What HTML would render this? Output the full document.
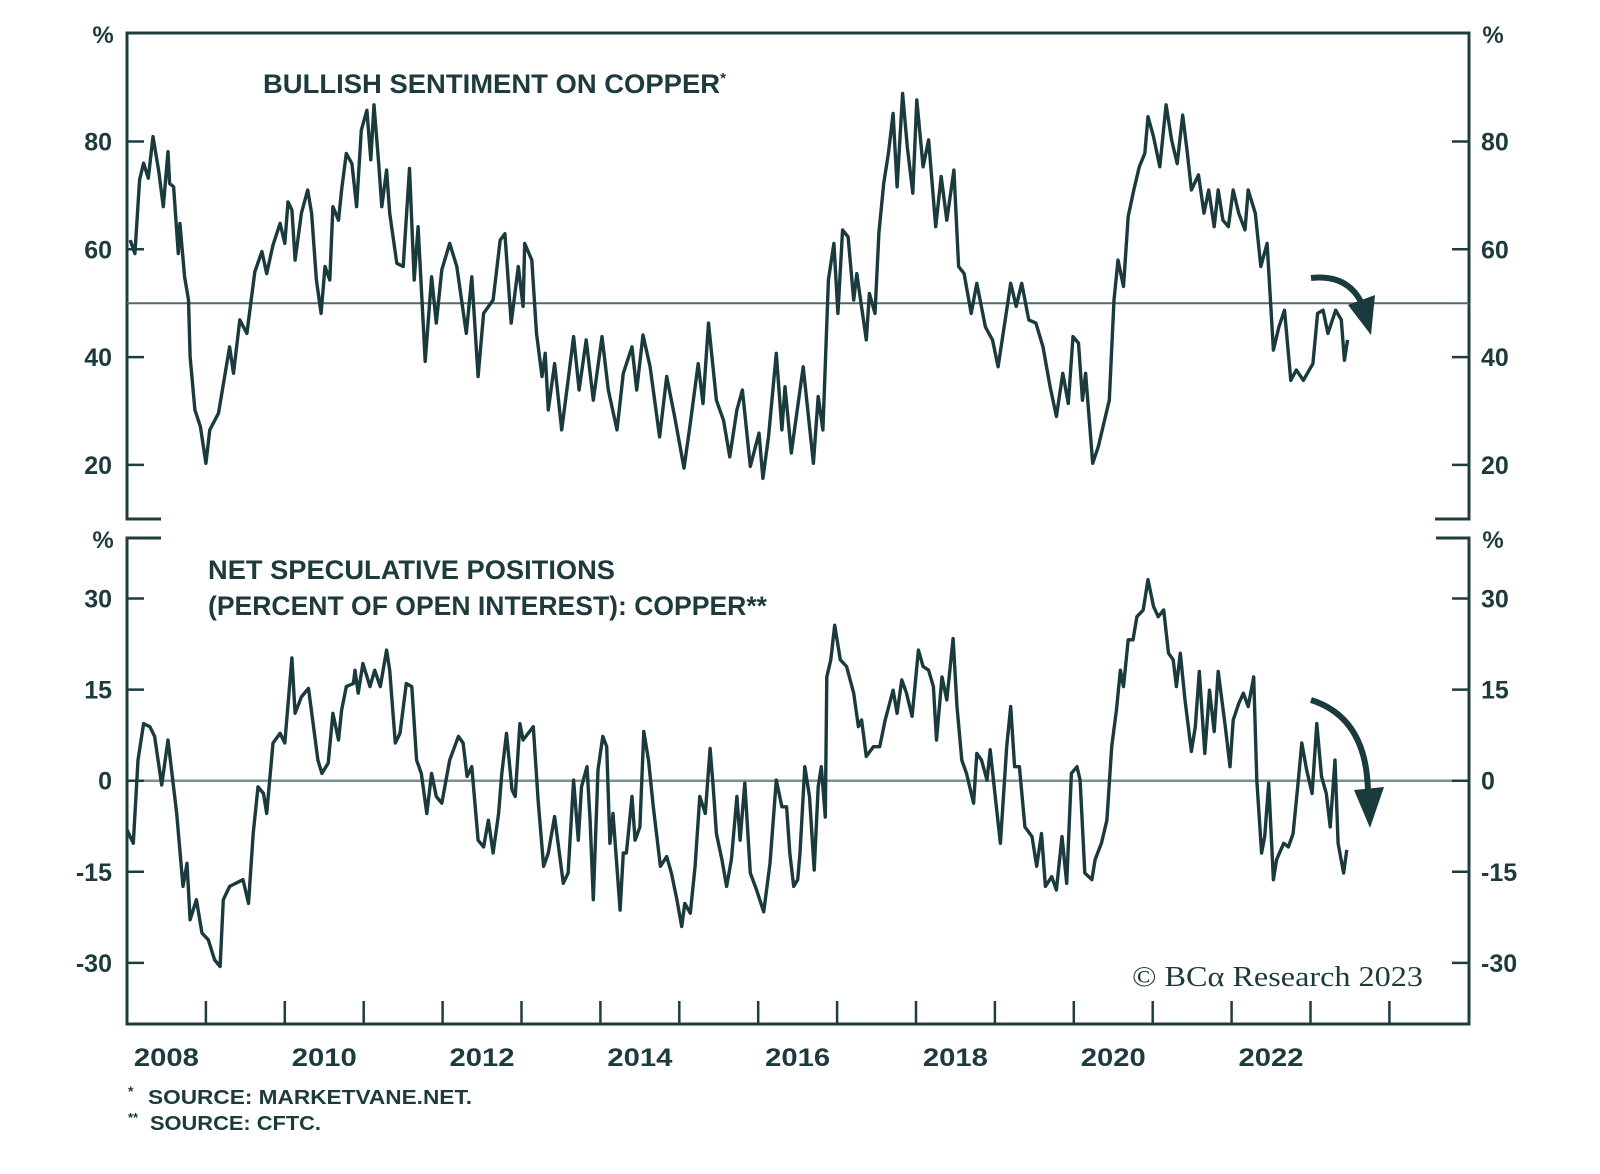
<!DOCTYPE html>
<html><head><meta charset="utf-8"><style>
html,body{margin:0;padding:0;background:#fff;}
svg{display:block;}
text{font-family:"Liberation Sans",sans-serif;fill:#1d3a3d;}
</style></head><body>
<svg id="chart" width="1600" height="1174" viewBox="0 0 1600 1174" xmlns="http://www.w3.org/2000/svg">
<g id="frame" fill="none" stroke="#1f3c3f" stroke-width="3">
<path d="M161,519 H127 V33 H1469 V519 H1435"/>
<path d="M161,538 H127 V1024 H1469 V538 H1436"/>
</g>
<g id="axes"></g>
<g id="series"></g>
<text x="263" y="93" font-size="27" font-weight="bold" textLength="463" lengthAdjust="spacingAndGlyphs">BULLISH SENTIMENT ON COPPER<tspan font-size="15" dy="-10">*</tspan></text>
<text x="208" y="579" font-size="27" font-weight="bold" textLength="407" lengthAdjust="spacingAndGlyphs">NET SPECULATIVE POSITIONS</text>
<text x="208" y="615" font-size="27" font-weight="bold" textLength="559" lengthAdjust="spacingAndGlyphs">(PERCENT OF OPEN INTEREST): COPPER**</text>
<text x="103" y="43" font-size="24" font-weight="bold" text-anchor="middle">%</text>
<text x="1493" y="43" font-size="24" font-weight="bold" text-anchor="middle">%</text>
<text x="103" y="548" font-size="24" font-weight="bold" text-anchor="middle">%</text>
<text x="1493" y="548" font-size="24" font-weight="bold" text-anchor="middle">%</text>
<text x="1132" y="986" font-size="29" style="font-family:'Liberation Serif',serif" textLength="291" lengthAdjust="spacingAndGlyphs">© BCα Research 2023</text>
<text x="128" y="1104" font-size="20" font-weight="bold"><tspan font-size="14" dy="-8">*</tspan><tspan x="148" dy="8" textLength="324" lengthAdjust="spacingAndGlyphs">SOURCE: MARKETVANE.NET.</tspan></text>
<text x="128" y="1130" font-size="20" font-weight="bold"><tspan font-size="13" dy="-8">**</tspan><tspan x="150" dy="8" textLength="171" lengthAdjust="spacingAndGlyphs">SOURCE: CFTC.</tspan></text>
<g>
<path d="M1311,278 Q1348,274 1362,304" fill="none" stroke="#1a3a3d" stroke-width="6"/>
<polygon points="1348,305 1375,295 1371,335" fill="#1a3a3d"/>
</g>
<g>
<path d="M1311,700 Q1368,718 1368,795" fill="none" stroke="#1a3a3d" stroke-width="6"/>
<polygon points="1354,790 1384,787 1370,828" fill="#1a3a3d"/>
</g>
</svg>
<script>
const topDates=[2008.04,2008.10,2008.16,2008.21,2008.27,2008.33,2008.40,2008.46,2008.52,2008.54,2008.59,2008.65,2008.67,2008.73,2008.78,2008.80,2008.86,2008.93,2009.00,2009.05,2009.16,2009.30,2009.35,2009.43,2009.52,2009.62,2009.71,2009.77,2009.85,2009.94,2010.00,2010.04,2010.09,2010.13,2010.21,2010.29,2010.34,2010.40,2010.46,2010.51,2010.57,2010.61,2010.68,2010.72,2010.78,2010.85,2010.91,2010.97,2011.04,2011.09,2011.13,2011.19,2011.23,2011.29,2011.33,2011.42,2011.50,2011.58,2011.64,2011.69,2011.78,2011.86,2011.92,2011.99,2012.09,2012.18,2012.30,2012.37,2012.45,2012.52,2012.64,2012.73,2012.79,2012.87,2012.96,2013.02,2013.04,2013.13,2013.19,2013.26,2013.30,2013.34,2013.42,2013.51,2013.59,2013.66,2013.73,2013.82,2013.91,2014.02,2014.10,2014.21,2014.29,2014.40,2014.46,2014.54,2014.63,2014.75,2014.84,2014.94,2015.06,2015.14,2015.24,2015.30,2015.37,2015.47,2015.56,2015.64,2015.73,2015.80,2015.90,2016.01,2016.06,2016.13,2016.23,2016.30,2016.34,2016.42,2016.57,2016.70,2016.76,2016.82,2016.89,2016.96,2017.01,2017.07,2017.14,2017.21,2017.25,2017.37,2017.41,2017.48,2017.53,2017.59,2017.65,2017.71,2017.76,2017.83,2017.89,2017.96,2018.01,2018.09,2018.16,2018.25,2018.32,2018.39,2018.48,2018.54,2018.61,2018.70,2018.77,2018.88,2018.97,2019.04,2019.13,2019.20,2019.27,2019.34,2019.43,2019.52,2019.61,2019.70,2019.78,2019.86,2019.93,2019.99,2020.06,2020.11,2020.15,2020.24,2020.31,2020.38,2020.45,2020.51,2020.56,2020.63,2020.69,2020.76,2020.83,2020.90,2020.94,2021.01,2021.09,2021.17,2021.24,2021.31,2021.38,2021.44,2021.49,2021.58,2021.65,2021.71,2021.78,2021.83,2021.89,2021.96,2022.02,2022.09,2022.17,2022.21,2022.30,2022.37,2022.45,2022.53,2022.60,2022.67,2022.75,2022.82,2022.91,2023.03,2023.09,2023.16,2023.22,2023.32,2023.39,2023.43,2023.47];
const topValues=[61.7,59.2,72.9,76.0,73.2,80.9,74.7,67.9,78.1,72.2,71.6,59.2,64.8,54.9,50.6,40.1,30.2,27.1,20.3,26.5,29.6,41.9,37.0,46.9,44.4,55.8,59.6,55.5,60.8,64.8,61.1,68.8,67.3,58.0,66.7,71.0,66.7,54.3,48.1,56.8,54.3,67.9,65.4,71.0,77.8,75.9,67.9,82.1,85.8,76.6,86.8,75.9,67.9,74.7,66.7,57.4,56.8,75.0,54.3,64.2,39.2,54.9,46.3,56.2,61.1,56.8,44.4,54.9,36.4,48.1,50.6,61.7,62.9,46.3,56.8,49.4,61.1,58.0,44.4,36.4,40.7,30.2,38.8,26.5,35.7,43.8,33.9,43.2,32.0,43.8,33.9,26.5,37.0,41.9,33.9,44.1,38.2,25.2,36.4,29.0,19.4,27.7,38.8,31.4,46.3,32.0,28.3,21.5,30.2,33.9,19.7,25.9,17.5,25.2,40.7,26.5,34.5,22.2,38.2,20.3,32.7,26.5,54.3,61.1,48.1,63.6,62.3,50.6,55.5,43.2,51.8,48.1,63.0,72.2,77.8,85.2,71.6,88.9,79.0,70.4,87.7,75.3,80.3,64.2,73.5,65.4,74.7,56.8,55.5,48.1,53.7,45.6,43.2,38.2,46.9,53.7,49.4,53.7,46.9,46.3,41.9,34.5,29.0,37.0,31.4,43.8,42.6,32.0,37.0,20.3,23.4,27.7,32.0,50.6,58.0,53.1,66.1,71.0,75.3,77.8,84.6,80.9,75.3,86.8,80.3,75.9,84.9,77.8,71.0,73.8,66.7,71.0,64.2,71.0,65.4,64.2,71.0,66.7,63.6,71.0,66.7,56.8,61.1,41.3,45.6,48.7,35.7,37.6,35.7,38.8,48.1,48.7,44.4,48.7,46.9,39.4,43.2];
const botDates=[2008.00,2008.08,2008.14,2008.21,2008.29,2008.35,2008.44,2008.52,2008.63,2008.71,2008.76,2008.80,2008.88,2008.95,2009.03,2009.11,2009.18,2009.22,2009.30,2009.47,2009.54,2009.60,2009.66,2009.73,2009.77,2009.85,2009.94,2010.00,2010.09,2010.13,2010.21,2010.30,2010.42,2010.47,2010.55,2010.61,2010.68,2010.72,2010.78,2010.87,2010.89,2010.93,2010.99,2011.08,2011.14,2011.21,2011.29,2011.33,2011.40,2011.46,2011.54,2011.61,2011.67,2011.73,2011.80,2011.86,2011.92,2011.99,2012.09,2012.20,2012.26,2012.31,2012.37,2012.45,2012.52,2012.58,2012.64,2012.71,2012.75,2012.81,2012.88,2012.92,2012.98,2013.02,2013.15,2013.21,2013.28,2013.34,2013.42,2013.53,2013.59,2013.66,2013.72,2013.76,2013.83,2013.87,2013.91,2013.97,2014.03,2014.08,2014.12,2014.16,2014.25,2014.29,2014.33,2014.40,2014.44,2014.50,2014.55,2014.61,2014.67,2014.76,2014.84,2014.90,2014.97,2015.03,2015.07,2015.14,2015.20,2015.26,2015.33,2015.39,2015.43,2015.47,2015.54,2015.60,2015.66,2015.73,2015.77,2015.83,2015.90,2015.98,2016.07,2016.15,2016.23,2016.30,2016.36,2016.40,2016.45,2016.50,2016.53,2016.59,2016.65,2016.71,2016.76,2016.80,2016.85,2016.87,2016.92,2016.97,2017.04,2017.12,2017.21,2017.27,2017.31,2017.37,2017.46,2017.54,2017.61,2017.71,2017.76,2017.82,2017.88,2017.95,2018.03,2018.09,2018.16,2018.22,2018.26,2018.33,2018.39,2018.47,2018.52,2018.58,2018.64,2018.73,2018.77,2018.83,2018.90,2018.94,2019.00,2019.07,2019.15,2019.20,2019.25,2019.31,2019.38,2019.47,2019.53,2019.59,2019.64,2019.72,2019.78,2019.85,2019.91,2019.97,2020.04,2020.08,2020.14,2020.23,2020.27,2020.35,2020.42,2020.48,2020.54,2020.59,2020.63,2020.69,2020.75,2020.80,2020.88,2020.94,2021.01,2021.07,2021.14,2021.20,2021.26,2021.30,2021.35,2021.41,2021.49,2021.54,2021.59,2021.66,2021.72,2021.78,2021.83,2021.92,2021.98,2022.02,2022.09,2022.15,2022.21,2022.28,2022.32,2022.38,2022.42,2022.47,2022.53,2022.57,2022.66,2022.72,2022.78,2022.85,2022.89,2022.95,2023.02,2023.08,2023.14,2023.20,2023.25,2023.31,2023.35,2023.42,2023.46];
const botValues=[-8.1,-10.3,3.4,9.4,8.9,7.3,-0.7,6.7,-5.4,-17.4,-13.6,-22.9,-19.6,-25.1,-26.2,-29.5,-30.6,-19.6,-17.4,-16.3,-20.2,-8.7,-1.0,-2.1,-5.4,6.2,7.8,6.2,20.2,11.1,13.8,15.2,3.4,1.2,2.9,11.1,6.7,11.6,15.5,16.0,18.2,14.4,19.3,15.5,18.2,15.5,21.5,18.2,6.2,7.8,16.0,15.5,3.4,1.2,-5.4,1.2,-2.6,-3.7,3.4,7.3,6.2,0.7,2.3,-9.8,-10.9,-6.5,-11.9,-5.4,1.2,7.8,-1.5,-2.6,9.4,6.7,8.9,-3.2,-14.1,-11.9,-5.9,-16.9,-15.2,0.1,-9.8,-1.0,2.3,-6.5,-19.6,1.8,7.3,5.6,-10.3,-5.4,-21.3,-11.9,-11.9,-2.6,-9.8,-7.6,8.1,3.4,-4.3,-14.1,-12.5,-15.2,-19.6,-24.0,-20.2,-21.8,-14.1,-2.6,-5.4,5.3,-1.0,-8.7,-13.0,-17.4,-13.0,-2.6,-9.8,-0.4,-15.2,-18.0,-21.6,-13.6,0.1,-4.3,-4.3,-11.9,-17.4,-16.3,-11.9,2.3,-2.6,-14.7,-1.0,2.3,-6.0,17.1,19.9,25.6,19.9,18.8,14.4,8.9,10.0,4.0,5.6,5.6,10.0,14.9,11.1,16.6,14.4,10.6,21.5,18.8,18.2,15.5,6.7,17.1,13.3,23.4,12.2,3.4,1.2,-3.7,4.5,3.4,0.1,5.1,-2.1,-10.3,5.6,12.2,2.3,2.3,-7.6,-9.2,-14.1,-8.7,-17.4,-15.8,-18.0,-9.2,-16.9,1.2,2.3,0.1,-15.2,-16.3,-13.0,-10.3,-6.5,5.6,11.6,18.2,15.5,23.2,23.2,27.0,28.1,33.1,28.7,27.0,28.1,21.0,19.9,15.5,21.0,13.3,4.8,8.9,18.0,4.5,14.9,8.1,18.0,8.9,2.3,10.0,12.7,14.4,12.2,17.1,0.1,-11.9,-9.2,-0.4,-16.3,-13.0,-10.3,-10.9,-8.7,0.7,6.2,1.8,-2.1,9.4,0.7,-2.1,-7.6,3.4,-10.3,-15.2,-11.4];
const topTicks=[20,40,60,80];
const botTicks=[-30,-15,0,15,30];
const yearTicks=[2009,2010,2011,2012,2013,2014,2015,2016,2017,2018,2019,2020,2021,2022,2023,2024];
const yearLabels=[2008,2010,2012,2014,2016,2018,2020,2022];
const topRef=50;
const botRef=0;

function xs(t){return 127+(t-2008)*78.9;}
function yT(v){return 141.5+(80-v)*5.39;}
function yB(v){return 780.7-v*6.073;}
const NS='http://www.w3.org/2000/svg';
const axes=document.getElementById('axes');
const series=document.getElementById('series');
function mk(tag,parent){const e=document.createElementNS(NS,tag);parent.appendChild(e);return e;}

let r1=mk('line',axes);


r1.setAttribute('x1',127);r1.setAttribute('x2',1469);r1.setAttribute('y1',yT(topRef));r1.setAttribute('y2',yT(topRef));
r1.setAttribute('stroke','#4f6b6d');r1.setAttribute('stroke-width','2');
let r2=mk('line',axes);


r2.setAttribute('x1',127);r2.setAttribute('x2',1469);r2.setAttribute('y1',yB(botRef));r2.setAttribute('y2',yB(botRef));
r2.setAttribute('stroke','#7d8f8f');r2.setAttribute('stroke-width','2.5');

function yTick(v,y,side,panel){
  const l=mk('line',axes);
  
  
  const x1=side==='left'?127:1452, x2=side==='left'?144:1469;
  l.setAttribute('x1',x1);l.setAttribute('x2',x2);l.setAttribute('y1',y);l.setAttribute('y2',y);
  l.setAttribute('stroke','#1f3c3f');l.setAttribute('stroke-width','2.5');
  const t=mk('text',axes);
  
  
  t.setAttribute('x',side==='left'?112:1481);t.setAttribute('y',y+9);
  t.setAttribute('font-size','25');t.setAttribute('font-weight','bold');
  t.setAttribute('text-anchor',side==='left'?'end':'start');
  t.textContent=String(v);
}
topTicks.forEach(v=>{yTick(v,yT(v),'left','top');yTick(v,yT(v),'right','top');});
botTicks.forEach(v=>{yTick(v,yB(v),'left','bottom');yTick(v,yB(v),'right','bottom');});

yearTicks.forEach(y=>{
  const l=mk('line',axes);
  
  
  l.setAttribute('x1',xs(y));l.setAttribute('x2',xs(y));l.setAttribute('y1',1001);l.setAttribute('y2',1024);
  l.setAttribute('stroke','#1f3c3f');l.setAttribute('stroke-width','2.5');
});
yearLabels.forEach(y=>{
  const t=mk('text',axes);
  
  
  t.setAttribute('x',xs(y+0.5));t.setAttribute('y',1066);
  t.setAttribute('font-size','25');t.setAttribute('font-weight','bold');
  t.setAttribute('text-anchor','middle');
  t.setAttribute('textLength','65');t.setAttribute('lengthAdjust','spacingAndGlyphs');
  t.textContent=String(y);
});

function linePath(dates,vals,ys){
  return dates.map((d,i)=>(i?'L':'M')+xs(d).toFixed(1)+','+ys(vals[i]).toFixed(1)).join(' ');
}
const p1=mk('path',series);


p1.setAttribute('d',linePath(topDates,topValues,yT));
p1.setAttribute('fill','none');p1.setAttribute('stroke','#1a3a3d');p1.setAttribute('stroke-width','3.4');p1.setAttribute('stroke-linejoin','round');
const p2=mk('path',series);


p2.setAttribute('d',linePath(botDates,botValues,yB));
p2.setAttribute('fill','none');p2.setAttribute('stroke','#1a3a3d');p2.setAttribute('stroke-width','3.4');p2.setAttribute('stroke-linejoin','round');
</script>
</body></html>
